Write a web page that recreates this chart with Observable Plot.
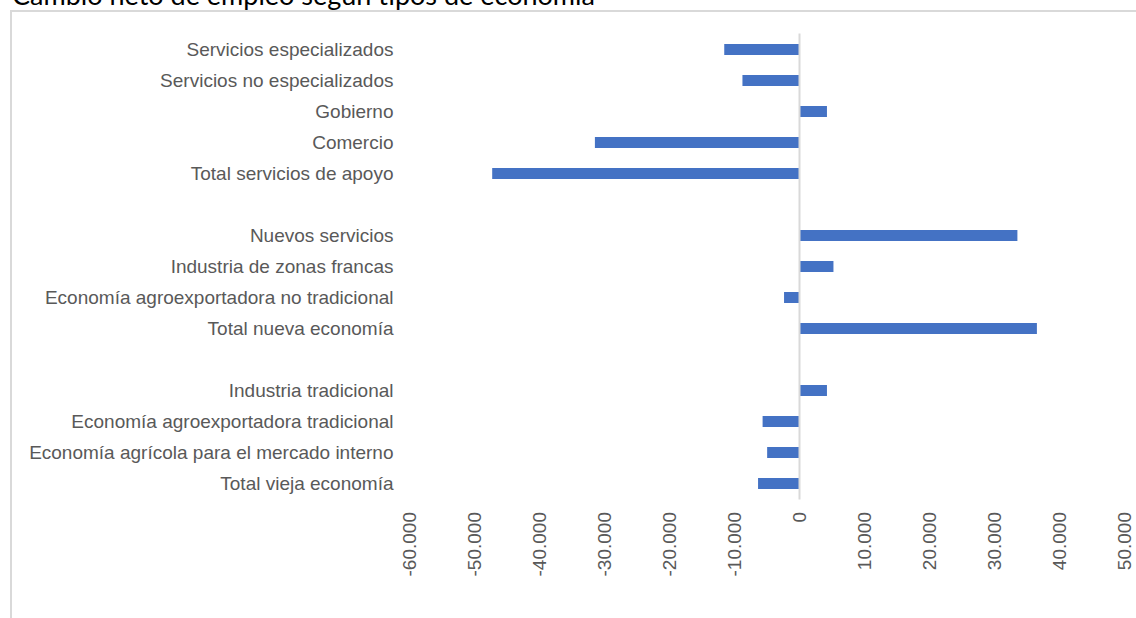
<!DOCTYPE html>
<html>
<head>
<meta charset="utf-8">
<script src="https://cdn.jsdelivr.net/npm/d3@7"></script>
<script src="https://cdn.jsdelivr.net/npm/@observablehq/plot@0.6"></script>
<style>
  html, body { margin: 0; padding: 0; background: #fff; overflow: hidden; }
  #wrap { position: relative; width: 1136px; height: 618px; overflow: hidden; }
  #frame { position: absolute; left: 10px; top: 10px; width: 1200px; height: 700px; border: 2px solid #d9d9d9; box-sizing: border-box; }
  #title { position: absolute; left: 12px; top: -19px; font-family: Lato, "Noto Sans", sans-serif; font-size: 27px; line-height: 27px; color: #000; white-space: nowrap; }
  #chart { position: absolute; left: 0; top: 0; }
</style>
</head>
<body>
<div id="wrap">
  <div id="frame"></div>
  <div id="title">Cambio neto de empleo según tipos de economía</div>
  <div id="chart"></div>
</div>
<script>
// Categories, top to bottom ("gap" entries are empty rows between groups)
const categories = [
  "Servicios especializados",
  "Servicios no especializados",
  "Gobierno",
  "Comercio",
  "Total servicios de apoyo",
  "gap1",
  "Nuevos servicios",
  "Industria de zonas francas",
  "Economía agroexportadora no tradicional",
  "Total nueva economía",
  "gap2",
  "Industria tradicional",
  "Economía agroexportadora tradicional",
  "Economía agrícola para el mercado interno",
  "Total vieja economía"
];
const barCategories = categories.filter(c => !c.startsWith("gap"));
const values = [
  -11500, -8700, 4300, -31400, -47200,
  33600, 5300, -2300, 36600,
  4300, -5600, -4900, -6300
];
const xTicks = [-60000, -50000, -40000, -30000, -20000, -10000, 0, 10000, 20000, 30000, 40000, 50000];

const data = barCategories.map((c, i) => ({category: c, value: values[i]}));

const fmt = d3.formatLocale({decimal: ",", thousands: ".", grouping: [3], currency: ["", ""], minus: "-"}).format(",d");

const chart = Plot.plot({
  width: 1136,
  height: 618,
  marginLeft: 409,
  marginRight: 12,
  marginTop: 33.5,
  marginBottom: 118.5,
  style: {fontFamily: "'Liberation Sans', Arial, sans-serif", fontSize: "19px", color: "#595959", background: "transparent"},
  x: {domain: [-60000, 50000], ticks: xTicks, tickFormat: fmt},
  y: {domain: categories, paddingInner: 0.65, paddingOuter: 0.325},
  marks: [
    Plot.barX(data, {x: "value", y: "category", fill: "#4472c4"}),
    Plot.ruleX([0], {stroke: "#d9d9d9", strokeWidth: 2}),
    Plot.axisY({tickSize: 0, tickPadding: 16, fontSize: 19, fill: "#595959", tickFormat: d => d.startsWith("gap") ? "" : d, label: null}),
    Plot.axisX({ticks: xTicks, tickFormat: fmt, tickSize: 0, tickPadding: 12, tickRotate: -90, fontSize: 19, fill: "#595959", label: null})
  ]
});
document.getElementById("chart").appendChild(chart);
</script>
</body>
</html>
